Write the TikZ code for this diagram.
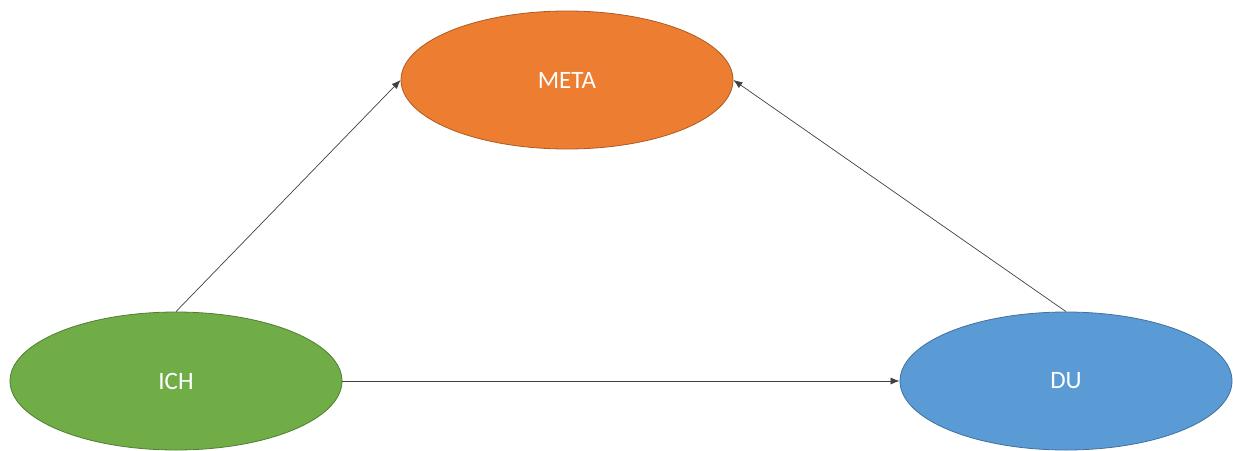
\documentclass[tikz,border=0pt]{standalone}
\usepackage{fontspec}
\setmainfont{Carlito}
\usetikzlibrary{shapes.geometric,arrows.meta}
\definecolor{orangefill}{HTML}{ED7D31}
\definecolor{orangeline}{HTML}{AE5A21}
\definecolor{greenfill}{HTML}{70AD47}
\definecolor{greenline}{HTML}{507E32}
\definecolor{bluefill}{HTML}{5B9BD5}
\definecolor{blueline}{HTML}{41719C}
\begin{document}
\begin{tikzpicture}[x=1pt,y=-1pt,
  ell/.style={ellipse,minimum width=332pt,minimum height=138pt,inner sep=0pt,line width=0.8pt,text=white,font=\fontsize{25}{28}\selectfont},
  conn/.style={draw=black!75,line width=0.7pt,-{Latex[length=9pt,width=7pt]}}]
\useasboundingbox (0,0) rectangle (1233,450);
\node[ell,fill=orangefill,draw=orangeline] (meta) at (567,80) {META};
\node[ell,fill=greenfill,draw=greenline] (ich) at (176,381) {ICH};
\node[ell,fill=bluefill,draw=blueline] (du) at (1066,381) {DU};
\draw[conn] (ich.north) -- (meta.west);
\draw[conn] (du.north) -- (meta.east);
\draw[conn] (ich.east) -- (du.west);
\end{tikzpicture}
\end{document}
